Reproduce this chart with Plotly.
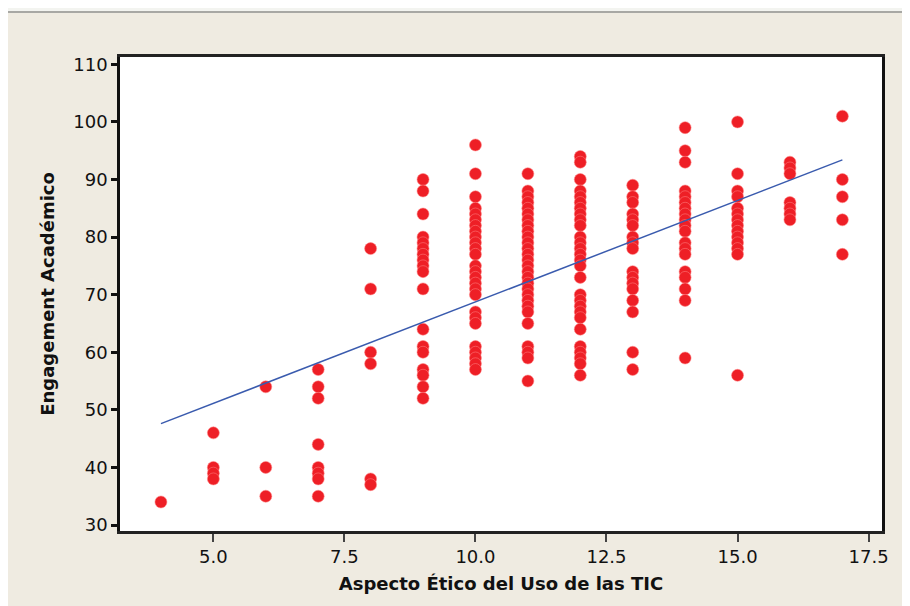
import plotly.graph_objects as go

# Values
aspecto_levels = [4, 5, 6, 7, 8, 9, 10, 11, 12, 13, 14, 15, 16, 17]
y_at_4 = [34]
y_at_5 = [46, 40, 39, 38]
y_at_6 = [54, 40, 35]
y_at_7 = [57, 54, 52, 44, 40, 39, 38, 35]
y_at_8 = [78, 71, 60, 58, 38, 37]
y_at_9 = [90, 88, 84, 80, 79, 78, 77, 76, 75, 74, 71, 64, 61, 60, 57, 56, 54, 52]
y_at_10 = [96, 91, 87, 85, 84, 83, 82, 81, 80, 79, 78, 77, 75, 74, 73, 72, 71, 70,
           67, 66, 65, 61, 60, 59, 58, 57]
y_at_11 = [91, 88, 87, 86, 85, 84, 83, 82, 81, 80, 79, 78, 77, 76, 75, 74, 73, 72,
           71, 70, 69, 68, 67, 65, 61, 60, 59, 55]
y_at_12 = [94, 93, 90, 88, 87, 86, 85, 84, 83, 82, 80, 79, 78, 77, 76, 75, 73, 70,
           69, 68, 67, 66, 64, 61, 60, 59, 58, 56]
y_at_13 = [89, 87, 86, 84, 83, 82, 80, 79, 78, 74, 73, 72, 71, 69, 67, 60, 57]
y_at_14 = [99, 95, 93, 88, 87, 86, 85, 84, 83, 82, 81, 79, 78, 77, 74, 73, 71, 69, 59]
y_at_15 = [100, 91, 88, 87, 85, 84, 83, 82, 81, 80, 79, 78, 77, 56]
y_at_16 = [93, 92, 91, 86, 85, 84, 83]
y_at_17 = [101, 90, 87, 83, 77]

engagement_by_level = [y_at_4, y_at_5, y_at_6, y_at_7, y_at_8, y_at_9, y_at_10,
                       y_at_11, y_at_12, y_at_13, y_at_14, y_at_15, y_at_16, y_at_17]

# Fitted line endpoints
fit_x = [4, 17]
fit_y = [47.6, 93.4]

x_tick_vals = [5.0, 7.5, 10.0, 12.5, 15.0, 17.5]
x_tick_text = ["5.0", "7.5", "10.0", "12.5", "15.0", "17.5"]
y_tick_vals = [30, 40, 50, 60, 70, 80, 90, 100, 110]

xs, ys = [], []
for lvl, vals in zip(aspecto_levels, engagement_by_level):
    for v in vals:
        xs.append(lvl)
        ys.append(v)

fig = go.Figure()
fig.add_trace(go.Scatter(
    x=xs, y=ys, mode="markers",
    marker=dict(size=12, color="#EE1F26",
                line=dict(color="rgba(255,130,130,0.9)", width=0.6)),
    showlegend=False, hoverinfo="x+y"))
fig.add_trace(go.Scatter(
    x=fit_x, y=fit_y, mode="lines",
    line=dict(color="#3A5BAE", width=1.5),
    showlegend=False))

# background: beige panel, lighter strip at top
fig.add_shape(type="rect", xref="paper", yref="paper",
              x0=-0.2, x1=1.1, y0=1.0949, y1=1.2,
              fillcolor="#F3F4F0", line=dict(width=0), layer="below")
fig.add_shape(type="line", xref="paper", yref="paper",
              x0=-0.2, x1=1.1, y0=1.0949, y1=1.0949,
              line=dict(color="#A8A8A4", width=2), layer="below")

font_family = "DejaVu Sans, Verdana, sans-serif"

fig.update_layout(
    width=910, height=606,
    margin=dict(l=112, r=36, t=49, b=83),
    paper_bgcolor="#EFEBE1",
    plot_bgcolor="#FFFFFF",
    font=dict(family=font_family, color="#111111"),
    xaxis=dict(
        range=[3.219, 17.756],
        tickvals=x_tick_vals, ticktext=x_tick_text,
        ticks="outside", ticklen=8, tickwidth=1.5, tickcolor="#444444",
        tickfont=dict(size=18, family=font_family, color="#111111"),
        showgrid=False, zeroline=False,
        showline=True, linecolor="#222222", linewidth=2.5, mirror=True,
        title=dict(text="<b>Aspecto Ético del Uso de las TIC</b>",
                   font=dict(size=18, family=font_family, color="#111111"),
                   standoff=12),
    ),
    yaxis=dict(
        range=[28.96, 111.27],
        tickvals=y_tick_vals,
        ticks="outside", ticklen=6, tickwidth=2.5, tickcolor="#111111",
        tickfont=dict(size=18, family=font_family, color="#111111"),
        showgrid=False, zeroline=False,
        showline=True, linecolor="#111111", linewidth=2.5, mirror=True,
        title=dict(text="<b>Engagement Académico</b>",
                   font=dict(size=18, family=font_family, color="#111111"),
                   standoff=14),
    ),
)

fig.write_html("out.html")
